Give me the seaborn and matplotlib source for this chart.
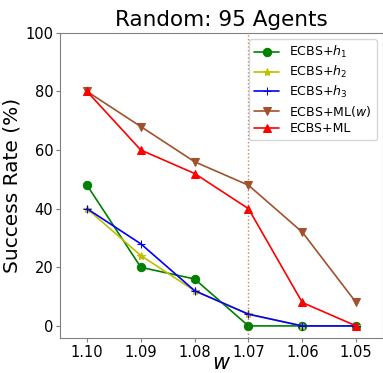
import matplotlib
matplotlib.use("Agg")
import matplotlib.pyplot as plt
import seaborn as sns
import pandas as pd

w_values = [1.10, 1.09, 1.08, 1.07, 1.06, 1.05]
h1 = [48, 20, 16, 0, 0, 0]
h2 = [40, 24, 12, 4, 0, 0]
h3 = [40, 28, 12, 4, 0, 0]
ml_w = [80, 68, 56, 48, 32, 8]
ml = [80, 60, 52, 40, 8, 0]
labels = [r"ECBS+$h_1$", r"ECBS+$h_2$", r"ECBS+$h_3$", r"ECBS+ML($w$)", "ECBS+ML"]
series = [h1, h2, h3, ml_w, ml]
colors = ["green", "y", "blue", "sienna", "red"]
markers = ["o", "*", "+", "v", "^"]

sns.set_style("ticks")
plt.rcParams['font.family'] = ['DejaVu Sans']
plt.rcParams['text.color'] = 'black'
plt.rcParams['axes.labelcolor'] = 'black'
plt.rcParams['xtick.color'] = 'gray'
plt.rcParams['ytick.color'] = 'gray'
plt.rcParams['xtick.labelcolor'] = 'black'
plt.rcParams['ytick.labelcolor'] = 'black'

fig = plt.figure(figsize=(3.83, 3.73), dpi=100)
ax = fig.add_axes([0.157, 0.094, 0.843, 0.818])

for lab, vals, c, m in zip(labels, series, colors, markers):
    df = pd.DataFrame({"w": w_values, "rate": vals})
    sns.lineplot(data=df, x="w", y="rate", ax=ax, color=c, marker=m,
                 markersize=6, markeredgecolor=c, linewidth=1.2, label=lab)

ax.axvline(1.07, color="sienna", linestyle=":", linewidth=1, alpha=0.7)
ax.set_xlim(1.105, 1.045)
ax.set_ylim(-4.1, 100)
ax.set_xticks(w_values)
ax.set_xticklabels([f"{v:.2f}" for v in w_values])
ax.set_yticks([0, 20, 40, 60, 80, 100])
ax.tick_params(labelsize=10.5, length=3, pad=2)
ax.set_xlabel(r"$w$", fontsize=15, labelpad=-5)
ax.set_ylabel("Success Rate (%)", fontsize=14.5, labelpad=3)
ax.set_title("Random: 95 Agents", fontsize=15.5, pad=5)
for s in ax.spines.values():
    s.set_color("gray")
ax.legend(loc="upper right", fontsize=9, framealpha=0.8, labelspacing=0.3,
          borderaxespad=0.5)
fig.savefig("out.png", dpi=100)
